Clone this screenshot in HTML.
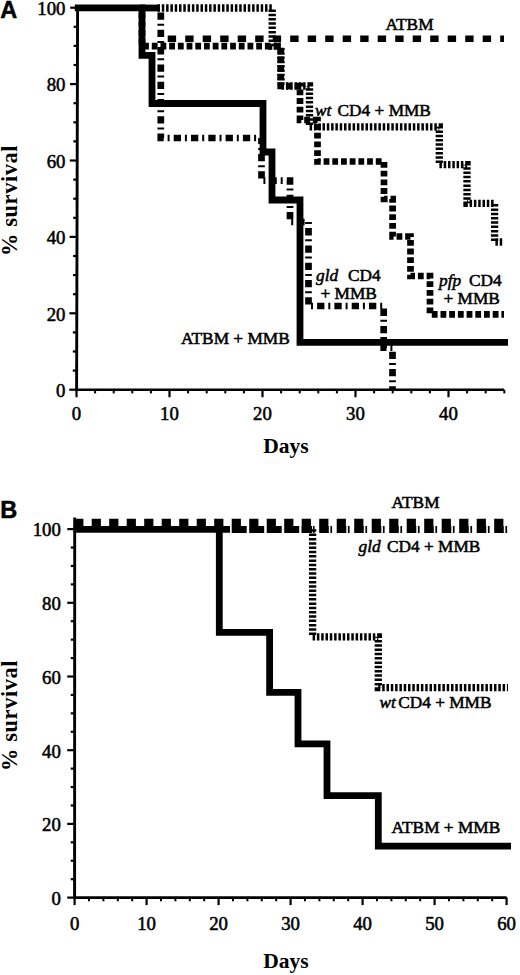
<!DOCTYPE html>
<html><head><meta charset="utf-8"><title>Survival curves</title>
<style>
html,body{margin:0;padding:0;background:#fff;width:520px;height:975px;overflow:hidden}
svg{display:block}
</style></head><body>
<svg width="520" height="975" viewBox="0 0 520 975">
<style>
.tk{font-family:"Liberation Serif",serif;font-size:18.8px;fill:#000;stroke:#000;stroke-width:0.55px}
.lb{font-family:"Liberation Serif",serif;font-size:17.3px;fill:#000;stroke:#000;stroke-width:0.55px}
.it{font-style:italic}
.ti{font-family:"Liberation Serif",serif;font-size:21.5px;font-weight:bold;fill:#000}
.sv{font-family:"Liberation Serif",serif;font-size:22.4px;font-weight:bold;fill:#000;letter-spacing:0.6px}
.pl{font-family:"Liberation Sans",sans-serif;font-size:23.5px;font-weight:bold;fill:#000;stroke:#000;stroke-width:0.5px}
.sol{fill:none;stroke:#000;stroke-width:6.8;stroke-linejoin:miter;stroke-linecap:butt}
.atb{fill:none;stroke:#000;stroke-width:6.6;stroke-dasharray:8.4 9.1}
.atbb{fill:none;stroke:#000;stroke-width:7.3;stroke-dasharray:9.2 8.3}
.pfp{fill:none;stroke:#000;stroke-width:6.7;stroke-dasharray:5.8 2.9}
.gld{fill:none;stroke:#000;stroke-width:6.7;stroke-dasharray:7.3 3.9 2 4.1}
.wt{fill:none;stroke:#000;stroke-width:7.3;stroke-dasharray:2.5 1.8}
.gldb{fill:none;stroke:#000;stroke-width:7.2;stroke-dasharray:9.6 1.6 1.7 4.6}
.wtb{fill:none;stroke:#000;stroke-width:7.2;stroke-dasharray:15 2.5}
</style>
<rect width="520" height="975" fill="#fff"/>
<line x1="77.6" y1="5" x2="76.6" y2="390.7" stroke="#000" stroke-width="2.9"/>
<line x1="75.5" y1="389.7" x2="504" y2="389.7" stroke="#000" stroke-width="2.6"/>
<line x1="69.2" y1="389.7" x2="76.6" y2="389.7" stroke="#000" stroke-width="2.2"/>
<line x1="72.75" y1="370.6" x2="76.65" y2="370.6" stroke="#000" stroke-width="2.2"/>
<line x1="72.8" y1="351.5" x2="76.7" y2="351.5" stroke="#000" stroke-width="2.2"/>
<line x1="72.85" y1="332.4" x2="76.75" y2="332.4" stroke="#000" stroke-width="2.2"/>
<line x1="69.4" y1="313.3" x2="76.8" y2="313.3" stroke="#000" stroke-width="2.2"/>
<line x1="72.95" y1="294.2" x2="76.85" y2="294.2" stroke="#000" stroke-width="2.2"/>
<line x1="73" y1="275.1" x2="76.9" y2="275.1" stroke="#000" stroke-width="2.2"/>
<line x1="73.05" y1="256" x2="76.95" y2="256" stroke="#000" stroke-width="2.2"/>
<line x1="69.6" y1="236.9" x2="77" y2="236.9" stroke="#000" stroke-width="2.2"/>
<line x1="73.15" y1="217.8" x2="77.05" y2="217.8" stroke="#000" stroke-width="2.2"/>
<line x1="73.2" y1="198.7" x2="77.1" y2="198.7" stroke="#000" stroke-width="2.2"/>
<line x1="73.25" y1="179.6" x2="77.15" y2="179.6" stroke="#000" stroke-width="2.2"/>
<line x1="69.8" y1="160.5" x2="77.2" y2="160.5" stroke="#000" stroke-width="2.2"/>
<line x1="73.35" y1="141.4" x2="77.25" y2="141.4" stroke="#000" stroke-width="2.2"/>
<line x1="73.4" y1="122.3" x2="77.3" y2="122.3" stroke="#000" stroke-width="2.2"/>
<line x1="73.45" y1="103.2" x2="77.35" y2="103.2" stroke="#000" stroke-width="2.2"/>
<line x1="70" y1="84.1" x2="77.4" y2="84.1" stroke="#000" stroke-width="2.2"/>
<line x1="73.55" y1="65" x2="77.45" y2="65" stroke="#000" stroke-width="2.2"/>
<line x1="73.6" y1="45.9" x2="77.5" y2="45.9" stroke="#000" stroke-width="2.2"/>
<line x1="73.65" y1="26.8" x2="77.55" y2="26.8" stroke="#000" stroke-width="2.2"/>
<line x1="70.2" y1="7.7" x2="77.6" y2="7.7" stroke="#000" stroke-width="2.2"/>
<line x1="76.5" y1="389.7" x2="76.5" y2="397.2" stroke="#000" stroke-width="2.2"/>
<line x1="95.1" y1="389.7" x2="95.1" y2="393.4" stroke="#000" stroke-width="2"/>
<line x1="113.7" y1="389.7" x2="113.7" y2="393.4" stroke="#000" stroke-width="2"/>
<line x1="132.3" y1="389.7" x2="132.3" y2="393.4" stroke="#000" stroke-width="2"/>
<line x1="150.9" y1="389.7" x2="150.9" y2="393.4" stroke="#000" stroke-width="2"/>
<line x1="169.5" y1="389.7" x2="169.5" y2="397.2" stroke="#000" stroke-width="2.2"/>
<line x1="188.1" y1="389.7" x2="188.1" y2="393.4" stroke="#000" stroke-width="2"/>
<line x1="206.7" y1="389.7" x2="206.7" y2="393.4" stroke="#000" stroke-width="2"/>
<line x1="225.3" y1="389.7" x2="225.3" y2="393.4" stroke="#000" stroke-width="2"/>
<line x1="243.9" y1="389.7" x2="243.9" y2="393.4" stroke="#000" stroke-width="2"/>
<line x1="262.5" y1="389.7" x2="262.5" y2="397.2" stroke="#000" stroke-width="2.2"/>
<line x1="281.1" y1="389.7" x2="281.1" y2="393.4" stroke="#000" stroke-width="2"/>
<line x1="299.7" y1="389.7" x2="299.7" y2="393.4" stroke="#000" stroke-width="2"/>
<line x1="318.3" y1="389.7" x2="318.3" y2="393.4" stroke="#000" stroke-width="2"/>
<line x1="336.9" y1="389.7" x2="336.9" y2="393.4" stroke="#000" stroke-width="2"/>
<line x1="355.5" y1="389.7" x2="355.5" y2="397.2" stroke="#000" stroke-width="2.2"/>
<line x1="374.1" y1="389.7" x2="374.1" y2="393.4" stroke="#000" stroke-width="2"/>
<line x1="392.7" y1="389.7" x2="392.7" y2="393.4" stroke="#000" stroke-width="2"/>
<line x1="411.3" y1="389.7" x2="411.3" y2="393.4" stroke="#000" stroke-width="2"/>
<line x1="429.9" y1="389.7" x2="429.9" y2="393.4" stroke="#000" stroke-width="2"/>
<line x1="448.5" y1="389.7" x2="448.5" y2="397.2" stroke="#000" stroke-width="2.2"/>
<line x1="467.1" y1="389.7" x2="467.1" y2="393.4" stroke="#000" stroke-width="2"/>
<line x1="485.7" y1="389.7" x2="485.7" y2="393.4" stroke="#000" stroke-width="2"/>
<line x1="504.3" y1="389.7" x2="504.3" y2="393.4" stroke="#000" stroke-width="2"/>
<text x="65.5" y="397" text-anchor="end" class="tk">0</text>
<text x="65.5" y="320.6" text-anchor="end" class="tk">20</text>
<text x="65.5" y="244.2" text-anchor="end" class="tk">40</text>
<text x="65.5" y="167.8" text-anchor="end" class="tk">60</text>
<text x="65.5" y="91.4" text-anchor="end" class="tk">80</text>
<text x="65.5" y="15" text-anchor="end" class="tk">100</text>
<text x="76.5" y="419.6" text-anchor="middle" class="tk">0</text>
<text x="169.5" y="419.6" text-anchor="middle" class="tk">10</text>
<text x="262.5" y="419.6" text-anchor="middle" class="tk">20</text>
<text x="355.5" y="419.6" text-anchor="middle" class="tk">30</text>
<text x="448.5" y="419.6" text-anchor="middle" class="tk">40</text>
<path d="M74.8,7.8H142V55.4H152V103.5H263V152H272V200H300V342.4H508" class="sol"/>
<path d="M167.7,38.7H504" class="atb"/>
<path d="M140,8H160" class="sol"/>
<path d="M142,8V46.2H280.7V86H300V120H317.5V161.5H384V199H392.6V236.5H410.5V276H430V314.3H504" class="pfp" stroke-dashoffset="4.2"/>
<path d="M157.5,8H272.2V46.2H281V86H309.5V126.8H439.3V164.7H467V203.3H494.6V242H504" class="wt"/>
<path d="M160.8,12.5V138H261.5V180.6H290V222H308.5V306H383.7V347.7H392.5V389" class="gld"/>
<text x="0.2" y="18.3" class="pl">A</text>
<text x="385.5" y="29.5" class="lb">ATBM</text>
<text x="315" y="116" class="lb it">wt</text><text x="337.6" y="116" class="lb">CD4 + MMB</text>
<text x="316" y="281.2" class="lb it">gld</text><text x="348" y="281.4" class="lb">CD4</text>
<text x="320.5" y="298.8" class="lb">+ MMB</text>
<text x="439" y="286" class="lb it">pfp</text><text x="469" y="286" class="lb">CD4</text>
<text x="443.5" y="304" class="lb">+ MMB</text>
<text x="181" y="344.2" class="lb">ATBM + MMB</text>
<text x="286" y="452.5" text-anchor="middle" class="ti">Days</text>
<text transform="translate(16.6,200.4) rotate(-90)" text-anchor="middle" class="sv">% survival</text>
<line x1="74.7" y1="517.5" x2="74.6" y2="898.6" stroke="#000" stroke-width="2.9"/>
<line x1="73.6" y1="897.6" x2="506.7" y2="897.6" stroke="#000" stroke-width="2.6"/>
<line x1="67.2" y1="897.6" x2="74.6" y2="897.6" stroke="#000" stroke-width="2.2"/>
<line x1="70.7" y1="879.18" x2="74.6" y2="879.18" stroke="#000" stroke-width="2.2"/>
<line x1="70.71" y1="860.75" x2="74.61" y2="860.75" stroke="#000" stroke-width="2.2"/>
<line x1="70.71" y1="842.33" x2="74.61" y2="842.33" stroke="#000" stroke-width="2.2"/>
<line x1="67.22" y1="823.9" x2="74.62" y2="823.9" stroke="#000" stroke-width="2.2"/>
<line x1="70.72" y1="805.48" x2="74.62" y2="805.48" stroke="#000" stroke-width="2.2"/>
<line x1="70.73" y1="787.05" x2="74.63" y2="787.05" stroke="#000" stroke-width="2.2"/>
<line x1="70.73" y1="768.62" x2="74.63" y2="768.62" stroke="#000" stroke-width="2.2"/>
<line x1="67.24" y1="750.2" x2="74.64" y2="750.2" stroke="#000" stroke-width="2.2"/>
<line x1="70.74" y1="731.78" x2="74.64" y2="731.78" stroke="#000" stroke-width="2.2"/>
<line x1="70.75" y1="713.35" x2="74.65" y2="713.35" stroke="#000" stroke-width="2.2"/>
<line x1="70.75" y1="694.92" x2="74.66" y2="694.92" stroke="#000" stroke-width="2.2"/>
<line x1="67.26" y1="676.5" x2="74.66" y2="676.5" stroke="#000" stroke-width="2.2"/>
<line x1="70.77" y1="658.08" x2="74.67" y2="658.08" stroke="#000" stroke-width="2.2"/>
<line x1="70.77" y1="639.65" x2="74.67" y2="639.65" stroke="#000" stroke-width="2.2"/>
<line x1="70.77" y1="621.23" x2="74.67" y2="621.23" stroke="#000" stroke-width="2.2"/>
<line x1="67.28" y1="602.8" x2="74.68" y2="602.8" stroke="#000" stroke-width="2.2"/>
<line x1="70.78" y1="584.38" x2="74.69" y2="584.38" stroke="#000" stroke-width="2.2"/>
<line x1="70.79" y1="565.95" x2="74.69" y2="565.95" stroke="#000" stroke-width="2.2"/>
<line x1="70.8" y1="547.53" x2="74.7" y2="547.53" stroke="#000" stroke-width="2.2"/>
<line x1="67.3" y1="529.1" x2="74.7" y2="529.1" stroke="#000" stroke-width="2.2"/>
<line x1="74.6" y1="897.6" x2="74.6" y2="905.1" stroke="#000" stroke-width="2.2"/>
<line x1="89" y1="897.6" x2="89" y2="901.3" stroke="#000" stroke-width="2"/>
<line x1="103.4" y1="897.6" x2="103.4" y2="901.3" stroke="#000" stroke-width="2"/>
<line x1="117.8" y1="897.6" x2="117.8" y2="901.3" stroke="#000" stroke-width="2"/>
<line x1="132.2" y1="897.6" x2="132.2" y2="901.3" stroke="#000" stroke-width="2"/>
<line x1="146.6" y1="897.6" x2="146.6" y2="905.1" stroke="#000" stroke-width="2.2"/>
<line x1="161" y1="897.6" x2="161" y2="901.3" stroke="#000" stroke-width="2"/>
<line x1="175.4" y1="897.6" x2="175.4" y2="901.3" stroke="#000" stroke-width="2"/>
<line x1="189.8" y1="897.6" x2="189.8" y2="901.3" stroke="#000" stroke-width="2"/>
<line x1="204.2" y1="897.6" x2="204.2" y2="901.3" stroke="#000" stroke-width="2"/>
<line x1="218.6" y1="897.6" x2="218.6" y2="905.1" stroke="#000" stroke-width="2.2"/>
<line x1="233" y1="897.6" x2="233" y2="901.3" stroke="#000" stroke-width="2"/>
<line x1="247.4" y1="897.6" x2="247.4" y2="901.3" stroke="#000" stroke-width="2"/>
<line x1="261.8" y1="897.6" x2="261.8" y2="901.3" stroke="#000" stroke-width="2"/>
<line x1="276.2" y1="897.6" x2="276.2" y2="901.3" stroke="#000" stroke-width="2"/>
<line x1="290.6" y1="897.6" x2="290.6" y2="905.1" stroke="#000" stroke-width="2.2"/>
<line x1="305" y1="897.6" x2="305" y2="901.3" stroke="#000" stroke-width="2"/>
<line x1="319.4" y1="897.6" x2="319.4" y2="901.3" stroke="#000" stroke-width="2"/>
<line x1="333.8" y1="897.6" x2="333.8" y2="901.3" stroke="#000" stroke-width="2"/>
<line x1="348.2" y1="897.6" x2="348.2" y2="901.3" stroke="#000" stroke-width="2"/>
<line x1="362.6" y1="897.6" x2="362.6" y2="905.1" stroke="#000" stroke-width="2.2"/>
<line x1="377" y1="897.6" x2="377" y2="901.3" stroke="#000" stroke-width="2"/>
<line x1="391.4" y1="897.6" x2="391.4" y2="901.3" stroke="#000" stroke-width="2"/>
<line x1="405.8" y1="897.6" x2="405.8" y2="901.3" stroke="#000" stroke-width="2"/>
<line x1="420.2" y1="897.6" x2="420.2" y2="901.3" stroke="#000" stroke-width="2"/>
<line x1="434.6" y1="897.6" x2="434.6" y2="905.1" stroke="#000" stroke-width="2.2"/>
<line x1="449" y1="897.6" x2="449" y2="901.3" stroke="#000" stroke-width="2"/>
<line x1="463.4" y1="897.6" x2="463.4" y2="901.3" stroke="#000" stroke-width="2"/>
<line x1="477.8" y1="897.6" x2="477.8" y2="901.3" stroke="#000" stroke-width="2"/>
<line x1="492.2" y1="897.6" x2="492.2" y2="901.3" stroke="#000" stroke-width="2"/>
<line x1="506.6" y1="897.6" x2="506.6" y2="905.1" stroke="#000" stroke-width="2.2"/>
<text x="60.8" y="904.9" text-anchor="end" class="tk">0</text>
<text x="60.8" y="831.2" text-anchor="end" class="tk">20</text>
<text x="60.8" y="757.5" text-anchor="end" class="tk">40</text>
<text x="60.8" y="683.8" text-anchor="end" class="tk">60</text>
<text x="60.8" y="610.1" text-anchor="end" class="tk">80</text>
<text x="60.8" y="536.4" text-anchor="end" class="tk">100</text>
<text x="74.6" y="930" text-anchor="middle" class="tk">0</text>
<text x="146.6" y="930" text-anchor="middle" class="tk">10</text>
<text x="218.6" y="930" text-anchor="middle" class="tk">20</text>
<text x="290.6" y="930" text-anchor="middle" class="tk">30</text>
<text x="362.6" y="930" text-anchor="middle" class="tk">40</text>
<text x="434.6" y="930" text-anchor="middle" class="tk">50</text>
<text x="506.6" y="930" text-anchor="middle" class="tk">60</text>
<path d="M73.6,529.3H230" class="sol"/>
<path d="M219.3,529.4V632.4H269.6V692.3H298V743.8H327V795.7H378.3V846.2H511" class="sol"/>
<path d="M74.2,522.3H507" class="atbb"/>
<path d="M231.7,529.5H312" class="wtb"/>
<path d="M301.7,529.5H507.5" class="gldb"/>
<path d="M312.6,529.3V636.8H378.3V687.6H508" class="wt"/>
<text x="0.2" y="517.8" class="pl">B</text>
<text x="391.5" y="508.3" class="lb">ATBM</text>
<text x="358.5" y="551.6" class="lb it">gld</text><text x="387" y="551.6" class="lb">CD4 + MMB</text>
<text x="379.5" y="707.5" class="lb it">wt</text><text x="398.2" y="707.5" class="lb">CD4 + MMB</text>
<text x="391.5" y="833.2" class="lb">ATBM + MMB</text>
<text x="286" y="967.9" text-anchor="middle" class="ti">Days</text>
<text transform="translate(16.6,715.4) rotate(-90)" text-anchor="middle" class="sv">% survival</text>
</svg>
</body></html>
